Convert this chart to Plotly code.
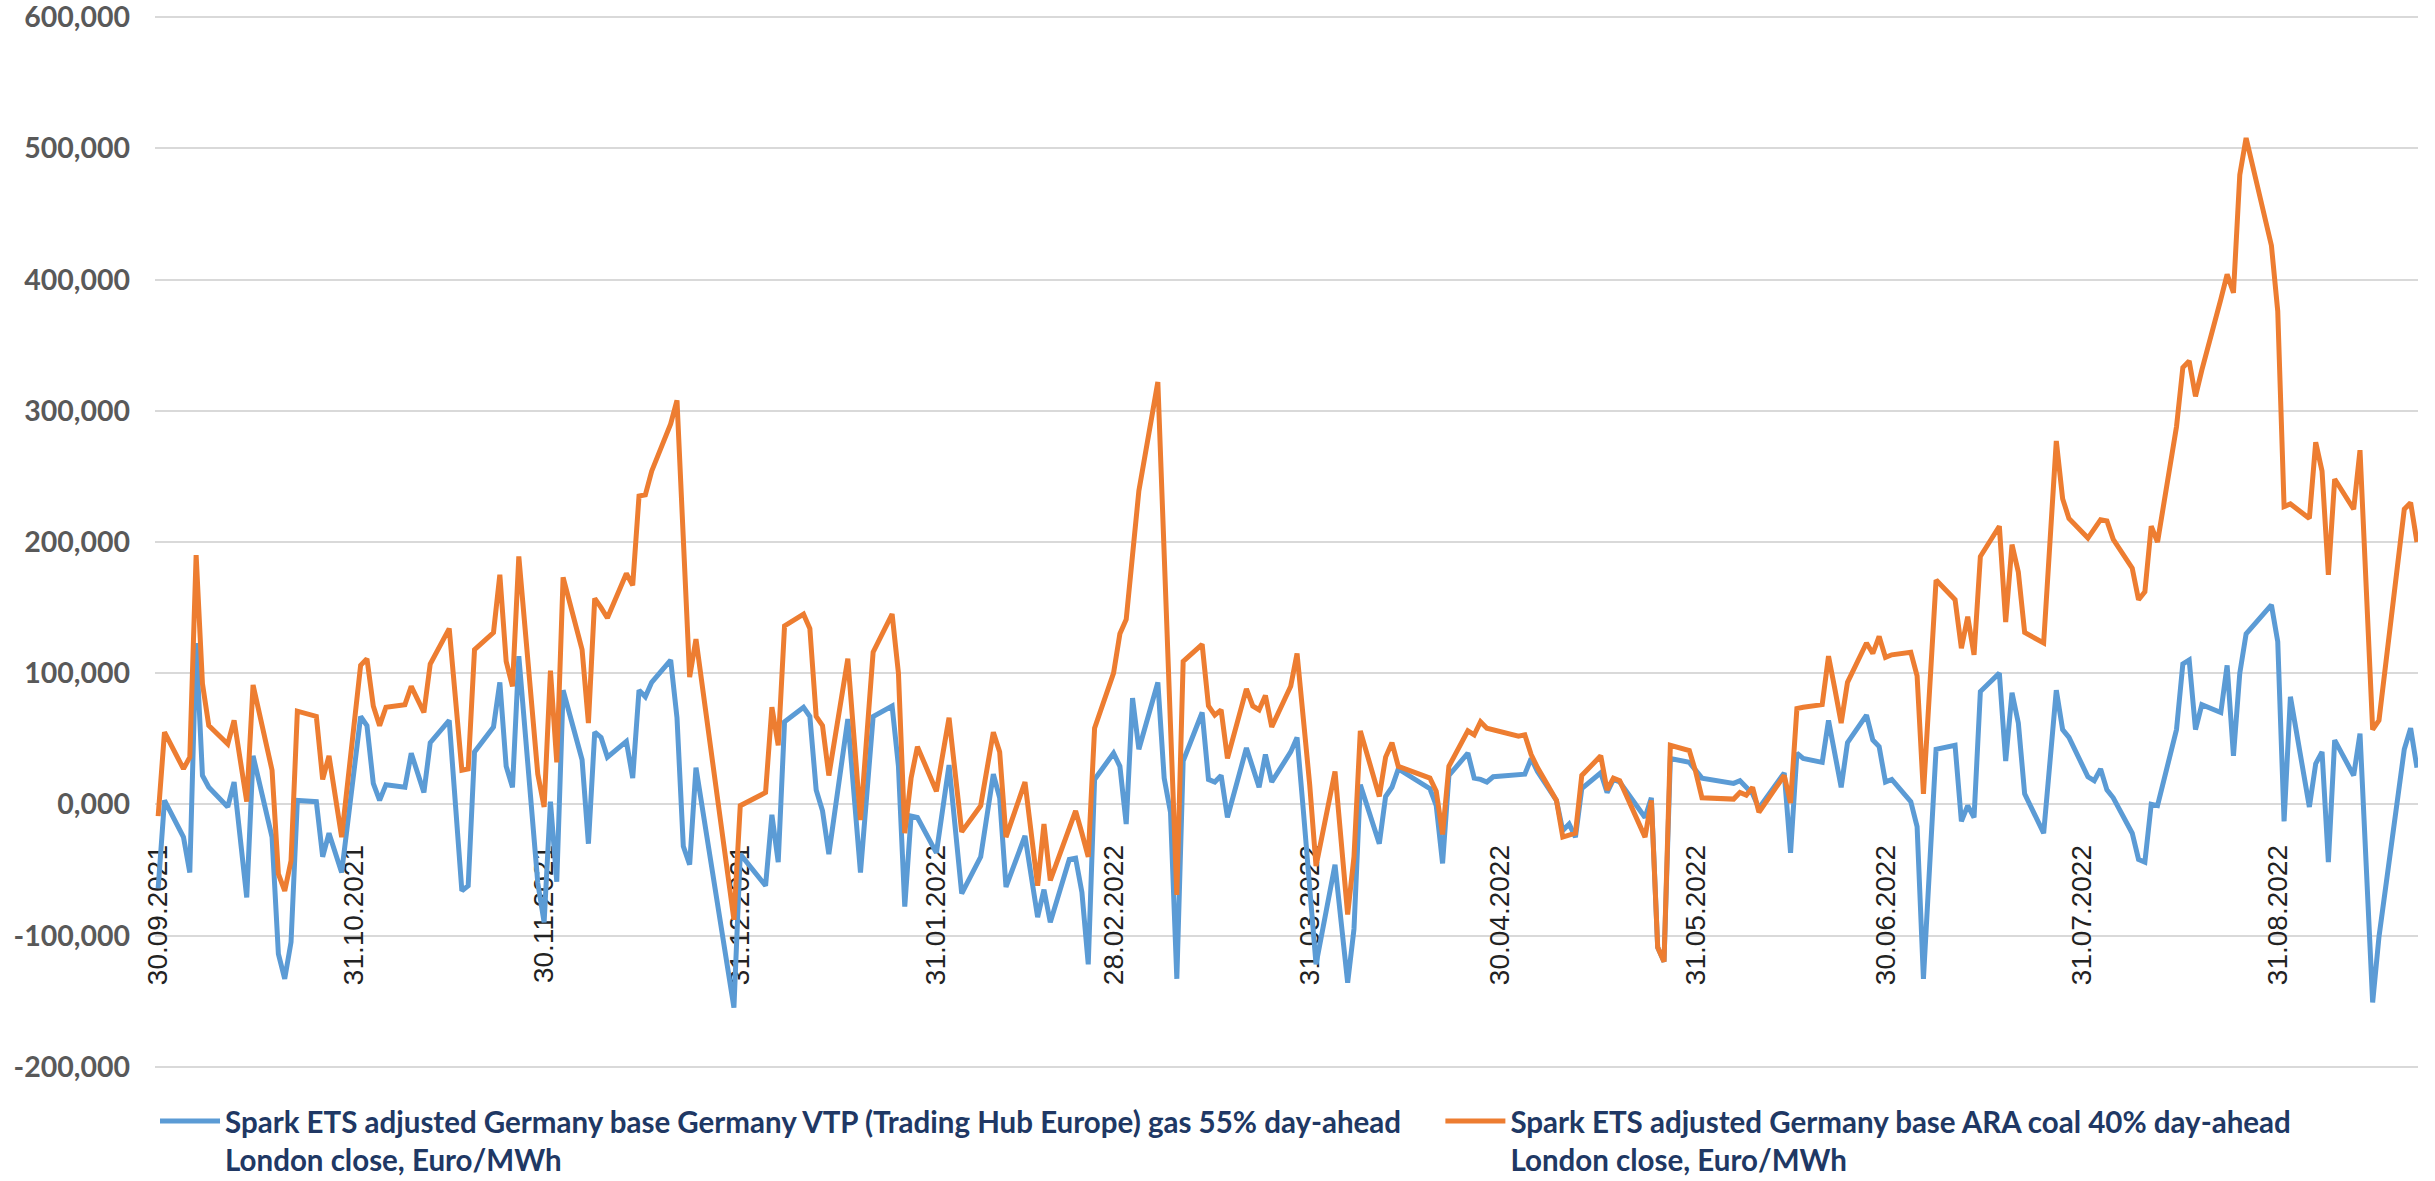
import plotly.graph_objects as go

# --- data (spark spreads, thousands as shown on the axis) --------------------

dates = [
    "2021-09-30", "2021-10-01", "2021-10-04", "2021-10-05", "2021-10-06", "2021-10-07", "2021-10-08",
    "2021-10-11", "2021-10-12", "2021-10-14", "2021-10-15", "2021-10-18", "2021-10-19", "2021-10-20",
    "2021-10-21", "2021-10-22", "2021-10-25", "2021-10-26", "2021-10-27", "2021-10-29", "2021-11-01",
    "2021-11-02", "2021-11-03", "2021-11-04", "2021-11-05", "2021-11-08", "2021-11-09", "2021-11-11",
    "2021-11-12", "2021-11-15", "2021-11-17", "2021-11-18", "2021-11-19", "2021-11-22", "2021-11-23",
    "2021-11-24", "2021-11-25", "2021-11-26", "2021-11-29", "2021-11-30", "2021-12-01", "2021-12-02",
    "2021-12-03", "2021-12-06", "2021-12-07", "2021-12-08", "2021-12-09", "2021-12-10", "2021-12-13",
    "2021-12-14", "2021-12-15", "2021-12-16", "2021-12-17", "2021-12-20", "2021-12-21", "2021-12-22",
    "2021-12-23", "2021-12-24", "2021-12-30", "2021-12-31", "2022-01-04", "2022-01-05", "2022-01-06",
    "2022-01-07", "2022-01-10", "2022-01-11", "2022-01-12", "2022-01-13", "2022-01-14", "2022-01-17",
    "2022-01-19", "2022-01-21", "2022-01-24", "2022-01-25", "2022-01-26", "2022-01-27", "2022-01-28",
    "2022-01-31", "2022-02-02", "2022-02-04", "2022-02-07", "2022-02-09", "2022-02-10", "2022-02-11",
    "2022-02-14", "2022-02-16", "2022-02-17", "2022-02-18", "2022-02-21", "2022-02-22", "2022-02-23",
    "2022-02-24", "2022-02-25", "2022-02-28", "2022-03-01", "2022-03-02", "2022-03-03", "2022-03-04",
    "2022-03-07", "2022-03-08", "2022-03-09", "2022-03-10", "2022-03-11", "2022-03-14", "2022-03-15",
    "2022-03-16", "2022-03-17", "2022-03-18", "2022-03-21", "2022-03-22", "2022-03-23", "2022-03-24",
    "2022-03-25", "2022-03-28", "2022-03-29", "2022-03-30", "2022-03-31", "2022-04-01", "2022-04-04",
    "2022-04-06", "2022-04-07", "2022-04-08", "2022-04-11", "2022-04-12", "2022-04-13", "2022-04-14",
    "2022-04-19", "2022-04-20", "2022-04-21", "2022-04-22", "2022-04-25", "2022-04-26", "2022-04-27",
    "2022-04-28", "2022-04-29", "2022-05-03", "2022-05-04", "2022-05-05", "2022-05-06", "2022-05-09",
    "2022-05-10", "2022-05-11", "2022-05-12", "2022-05-13", "2022-05-16", "2022-05-17", "2022-05-18",
    "2022-05-19", "2022-05-23", "2022-05-24", "2022-05-25", "2022-05-26", "2022-05-27", "2022-05-30",
    "2022-05-31", "2022-06-01", "2022-06-06", "2022-06-07", "2022-06-08", "2022-06-09", "2022-06-10",
    "2022-06-14", "2022-06-15", "2022-06-16", "2022-06-17", "2022-06-20", "2022-06-21", "2022-06-22",
    "2022-06-23", "2022-06-24", "2022-06-27", "2022-06-28", "2022-06-29", "2022-06-30", "2022-07-01",
    "2022-07-04", "2022-07-05", "2022-07-06", "2022-07-08", "2022-07-11", "2022-07-12", "2022-07-13",
    "2022-07-14", "2022-07-15", "2022-07-18", "2022-07-19", "2022-07-20", "2022-07-21", "2022-07-22",
    "2022-07-25", "2022-07-27", "2022-07-28", "2022-07-29", "2022-08-01", "2022-08-02", "2022-08-03",
    "2022-08-04", "2022-08-05", "2022-08-08", "2022-08-09", "2022-08-10", "2022-08-11", "2022-08-12",
    "2022-08-15", "2022-08-16", "2022-08-17", "2022-08-18", "2022-08-19", "2022-08-22", "2022-08-23",
    "2022-08-24", "2022-08-25", "2022-08-26", "2022-08-30", "2022-08-31", "2022-09-01", "2022-09-02",
    "2022-09-05", "2022-09-06", "2022-09-07", "2022-09-08", "2022-09-09", "2022-09-12", "2022-09-13",
    "2022-09-15", "2022-09-16", "2022-09-20", "2022-09-21", "2022-09-22",
]

gas_spark = [
    -64, 3, -25, -52, 123, 22, 13,
    -2, 17, -71, 37, -25, -114, -133,
    -105, 3, 2, -40, -22, -52, 67,
    60, 16, 3, 15, 13, 39, 9,
    47, 64, -66, -62, 40, 59, 93,
    29, 13, 113, -60, -90, 2, -59,
    87, 34, -30, 55, 51, 36, 48,
    20, 87, 82, 93, 110, 66, -32,
    -46, 28, -155, -38, -62, -8, -44,
    63, 74, 67, 11, -5, -38, 65,
    -52, 67, 75, 29, -78, -9, -10,
    -37, 30, -68, -40, 23, 5, -63,
    -24, -86, -65, -90, -42, -41, -67,
    -122, 19, 39, 29, -15, 81, 42,
    93, 20, -6, -133, 33, 70, 19,
    17, 22, -10, 43, 28, 13, 38,
    17, 40, 51, -5, -65, -122, -46,
    -136, -95, 15, -30, 6, 13, 27,
    12, -1, -45, 22, 39, 20, 19,
    17, 21, 22, 23, 35, 25, 3,
    -20, -15, -25, 12, 24, 9, 19,
    17, -10, 5, -109, -120, 35, 32,
    26, 20, 16, 18, 13, 8, -3,
    24, -37, 39, 35, 32, 64, 38,
    13, 47, 68, 49, 44, 17, 19,
    2, -17, -133, 42, 45, -13, -1,
    -10, 86, 100, 33, 85, 62, 8,
    -22, 87, 57, 51, 21, 18, 27,
    11, 5, -22, -42, -44, 0, -1,
    57, 107, 110, 57, 76, 70, 106,
    37, 100, 130, 152, 124, -13, 82,
    -2, 31, 40, -44, 49, 22, 54,
    -151, -101, 42, 58, 28,
]

coal_spark = [
    -9, 55, 27, 36, 190, 92, 60,
    46, 64, 2, 91, 26, -53, -66,
    -43, 71, 67, 19, 37, -25, 106,
    111, 75, 60, 74, 76, 90, 70,
    107, 134, 26, 27, 118, 131, 175,
    109, 90, 189, 23, -2, 102, 32,
    173, 118, 62, 157, 150, 142, 176,
    167, 235, 236, 254, 290, 308, 200,
    97, 126, -88, -1, 9, 74, 45,
    136, 145, 134, 67, 60, 22, 111,
    -12, 116, 145, 100, -22, 20, 44,
    10, 66, -21, -1, 55, 40, -25,
    17, -62, -15, -58, -18, -5, -22,
    -40, 58, 100, 130, 141, 190, 239,
    322, 200, 60, -69, 109, 122, 75,
    68, 72, 35, 88, 75, 72, 83,
    59, 90, 115, 65, 15, -47, 25,
    -84, -40, 56, 6, 36, 47, 29,
    20, 10, -23, 29, 56, 53, 63,
    58, 57, 52, 53, 38, 28, 3,
    -25, -23, -22, 22, 37, 11, 20,
    18, -25, 3, -109, -120, 45, 41,
    25, 5, 4, 9, 7, 13, -6,
    22, 1, 73, 74, 76, 113, 88,
    62, 93, 123, 115, 128, 112, 114,
    116, 98, 8, 171, 156, 119, 143,
    114, 189, 212, 139, 198, 177, 131,
    123, 277, 233, 218, 203, 210, 217,
    216, 202, 180, 156, 162, 212, 200,
    288, 333, 338, 311, 331, 385, 404,
    390, 480, 508, 426, 376, 227, 229,
    218, 276, 254, 175, 248, 225, 270,
    57, 64, 225, 230, 200,
]

month_ends = [
    "2021-09-30", "2021-10-31", "2021-11-30", "2021-12-31", "2022-01-31", "2022-02-28",
    "2022-03-31", "2022-04-30", "2022-05-31", "2022-06-30", "2022-07-31", "2022-08-31",
]

y_ticks = [-200, -100, 0, 100, 200, 300, 400, 500, 600]
y_tick_text = ["-200,000", "-100,000", "0,000", "100,000", "200,000",
               "300,000", "400,000", "500,000", "600,000"]

GAS_NAME = ("Spark ETS adjusted Germany base Germany VTP (Trading Hub Europe) gas 55% day-ahead"
            "<br>London close, Euro/MWh")
COAL_NAME = "Spark ETS adjusted Germany base ARA coal 40% day-ahead<br>London close, Euro/MWh"

COLORS = {
    "gas": "#5B9BD5",
    "coal": "#ED7D31",
    "grid": "#D9D9D9",
    "ytick": "#595959",
    "xtick": "#222222",
    "legend": "#203864",
}

Y_MIN, Y_MAX = -201, 601
X_RANGE = ["2021-09-29 12:00", "2022-09-22 04:00"]
# the date labels start a little below the zero line (Excel axis crossing at 0)
DATE_AXIS_AT = -26

LEGEND_FONT = dict(size=29.5, color=COLORS["legend"], weight="bold")


def legend_box(x: float) -> dict:
    return dict(
        orientation="h",
        x=x, xanchor="left",
        y=-0.026, yanchor="top",
        valign="top",
        itemwidth=60,
        font=LEGEND_FONT,
        bgcolor="rgba(0,0,0,0)",
    )


fig = go.Figure()
fig.add_trace(go.Scatter(
    x=dates, y=gas_spark, mode="lines", name=GAS_NAME,
    line=dict(color=COLORS["gas"], width=5),
    legend="legend",
))
fig.add_trace(go.Scatter(
    x=dates, y=coal_spark, mode="lines", name=COAL_NAME,
    line=dict(color=COLORS["coal"], width=5),
    legend="legend2",
))

axis_pos = (DATE_AXIS_AT - Y_MIN) / (Y_MAX - Y_MIN)

fig.update_layout(
    width=2435,
    height=1181,
    margin=dict(l=155, r=17, t=16, b=113, autoexpand=False),
    plot_bgcolor="white",
    paper_bgcolor="white",
    font=dict(family="Lato, 'Liberation Sans', sans-serif"),
    showlegend=True,
    legend=legend_box(0.0),
    legend2=legend_box(0.568),
)
fig.update_xaxes(
    range=X_RANGE,
    anchor="free", position=axis_pos,
    tickvals=month_ends, tickformat="%d.%m.%Y", tickangle=-90,
    tickfont=dict(family="'Liberation Sans', Arial, sans-serif", size=28, color=COLORS["xtick"]),
    showgrid=False, showline=False, zeroline=False, ticks="",
    layer="below traces",
)
fig.update_yaxes(
    range=[Y_MIN, Y_MAX],
    tickvals=y_ticks, ticktext=y_tick_text,
    tickfont=dict(size=28.5, color=COLORS["ytick"], weight="bold"),
    ticklabelstandoff=24,
    ticklabeloverflow="allow",
    showgrid=True, gridcolor=COLORS["grid"], gridwidth=2,
    zeroline=False, showline=False, ticks="",
)

fig.write_html(
    "out.html",
    config={"displayModeBar": False},
    post_script="document.body.style.margin='0';",
)
